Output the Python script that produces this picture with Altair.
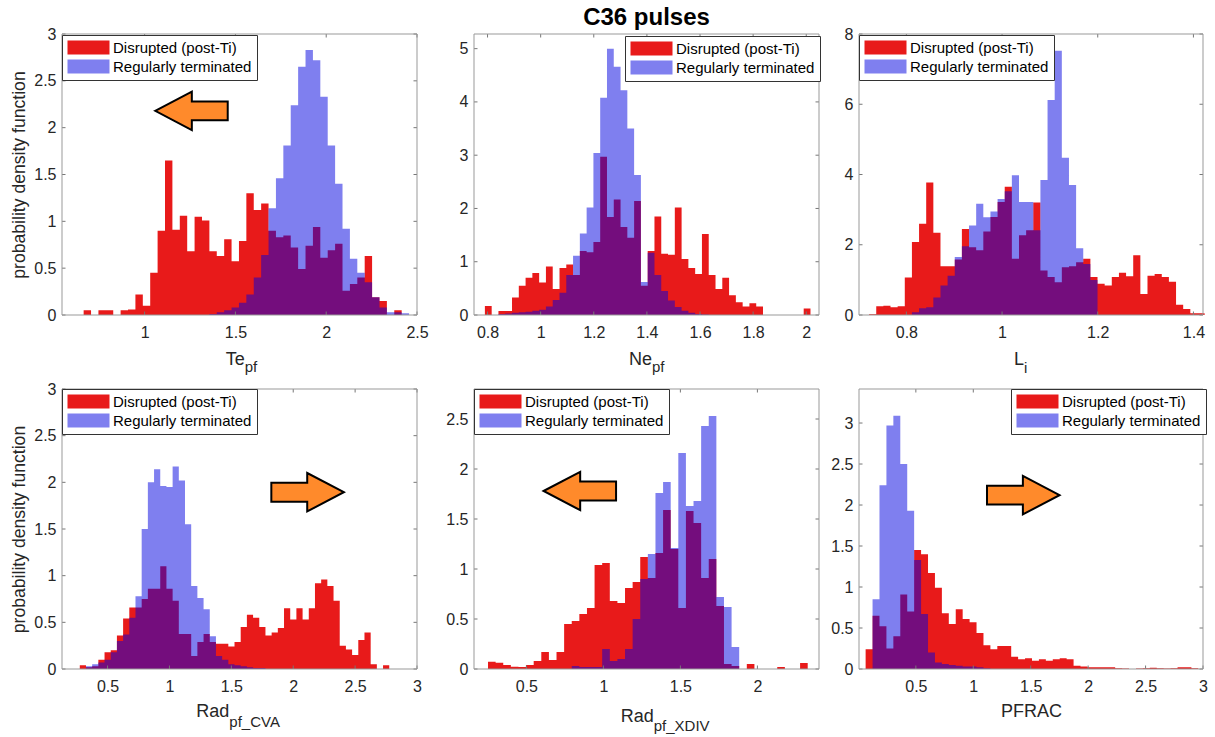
import altair as alt
import pandas as pd

FONT = "Liberation Sans"
INK = "#262626"
RED = "#E81A1A"
BLUE = "rgba(0,0,224,0.5)"
ORANGE = "#FF8A2B"
FRAME = "#999999"
TICKC = "#777777"
SERIES = ["Disrupted (post-Ti)", "Regularly terminated"]
YTITLE = "probability density function"
MAIN_TITLE = "C36 pulses"

# ---------------- data (bin start, bin width, pdf heights) ----------------
TE_START, TE_WIDTH = 0.6642, 0.04073
TE_RED = [0.05, 0, 0.05, 0.05, 0, 0.05, 0.06, 0.22, 0.10, 0.45,
          0.90, 1.65, 0.91, 1.06, 0.68, 1.05, 1.01, 0.68, 0.63, 0.81,
          0.575, 0.79, 1.30, 1.12, 1.19, 0.90, 0.83, 0.85, 0.72, 0.49,
          0.74, 0.94, 0.61, 0.69, 0.76, 0.26, 0.33, 0.40, 0.63, 0.19,
          0.15, 0.0, 0.05, 0.0]
TE_BLUE = [0] * 17 + [0.01, 0.03, 0.05, 0.08, 0.13, 0.22, 0.40, 0.64,
                      1.14, 1.46, 1.81, 2.24, 2.65, 2.83, 2.72, 2.33, 1.81, 1.40, 0.92,
                      0.60, 0.45, 0.35, 0.19, 0.08, 0.03, 0.03, 0.02]

NE_START, NE_WIDTH = 0.790, 0.02554
NE_RED = [0.17, 0, 0.075, 0.075, 0.33, 0.55, 0.70, 0.79, 0.61, 0.91,
          0.49, 0.88, 0.95, 0.75, 1.20, 1.18, 1.37, 2.97, 1.84, 2.17,
          1.65, 1.45, 2.14, 0.55, 1.20, 1.85, 1.15, 1.13, 2.02, 1.05,
          0.88, 0.77, 1.52, 0.75, 0.49, 0.70, 0.37, 0.24, 0.16, 0.22,
          0.16, 0, 0, 0, 0, 0, 0, 0.12]
NE_BLUE = [0, 0, 0.02, 0.03, 0.04, 0.05, 0.06, 0.08, 0.10, 0.16,
           0.28, 0.42, 0.75, 1.11, 1.53, 2.02, 3.04, 4.08, 5.0, 4.66,
           4.22, 3.5, 2.63, 0.62, 1.17, 0.75, 0.45, 0.27, 0.15, 0.08,
           0.04, 0.02, 0.01] + [0] * 15

LI_START, LI_WIDTH = 0.7221, 0.01492
LI_RED = [0.02, 0.25, 0.26, 0.22, 0.25, 1.07, 2.08, 2.6, 3.77, 2.34,
          1.39, 1.39, 1.58, 2.45, 1.93, 1.84, 2.38, 2.79, 3.22, 3.65,
          1.6, 2.27, 2.41, 3.2, 1.27, 1.08, 0.93, 1.36, 1.39, 1.50,
          1.60, 1.08, 0.89, 0.84, 1.08, 1.2, 1.1, 1.70, 0.6, 1.12,
          1.17, 1.08, 0.95, 0.29, 0.17, 0.05, 0.05]
LI_BLUE = [0, 0, 0, 0, 0, 0, 0.08, 0.19, 0.22, 0.5,
           0.84, 1.12, 1.65, 1.96, 2.55, 3.17, 2.78, 2.95, 3.3, 3.52,
           3.98, 3.22, 3.22, 2.41, 3.84, 6.12, 7.52, 4.48, 3.70, 1.90,
           1.45, 1.0] + [0] * 15

CVA_START, CVA_WIDTH = 0.2757, 0.05
CVA_RED = [0.04, 0.02, 0.03, 0.10, 0.18, 0.20, 0.36, 0.54, 0.66, 0.66,
           0.75, 0.86, 0.86, 1.10, 0.86, 0.73, 0.375, 0.375, 0.14, 0.29,
           0.375, 0.29, 0.27, 0.27, 0.24, 0.29, 0.45, 0.58, 0.55, 0.45,
           0.36, 0.39, 0.44, 0.65, 0.53, 0.65, 0.53, 0.65, 0.92, 0.96,
           0.89, 0.73, 0.25, 0.21, 0.15, 0.31, 0.39, 0.05, 0, 0.04]
CVA_BLUE = [0, 0.03, 0.05, 0.07, 0.10, 0.18, 0.30, 0.37, 0.55, 0.78,
            1.5, 2.0, 2.14, 1.96, 1.95, 2.17, 2.02, 1.55, 0.89, 0.76,
            0.64, 0.35, 0.14, 0.10, 0.05, 0.04, 0.03, 0.02, 0.01, 0.01] + [0] * 20

XDIV_START, XDIV_WIDTH = 0.251, 0.04942
XDIV_RED = [0.073, 0.063, 0.04, 0.023, 0.02, 0.04, 0.08, 0.17, 0.09, 0.17,
            0.45, 0.48, 0.55, 0.61, 1.04, 1.06, 0.68, 0.66, 0.81, 0.87,
            1.12, 0.91, 1.16, 1.59, 1.20, 0.61, 1.58, 1.46, 0.91, 1.10,
            0.63, 0.05, 0.03, 0, 0.05, 0, 0, 0, 0.02, 0, 0, 0.06]
XDIV_BLUE = [0] * 11 + [0.03, 0.02, 0.02, 0.02, 0.2, 0.08, 0.1, 0.2, 0.5,
                        0.9, 1.15, 1.76, 1.87, 1.21, 2.16, 1.63, 1.68, 2.43, 2.53,
                        0.72, 0.62, 0.22] + [0] * 9

PF_START, PF_WIDTH = 0.0627, 0.06035
PF_RED = [0.24, 0.65, 0.52, 0.25, 0.40, 0.91, 0.70, 1.45, 1.40, 1.17,
          0.99, 0.68, 0.55, 0.73, 0.61, 0.57, 0.44, 0.29, 0.24, 0.28,
          0.28, 0.15, 0.12, 0.13, 0.10, 0.12, 0.10, 0.12, 0.13, 0.12,
          0.04, 0.03, 0.02, 0.02, 0.02, 0.02, 0.01, 0.005, 0, 0.005,
          0.01, 0.015, 0.01, 0.005, 0.01, 0.02, 0.02, 0.01]
PF_BLUE = [0, 0.85, 2.24, 2.97, 3.09, 2.50, 1.93, 1.33, 0.67, 0.20,
           0.08, 0.06, 0.05, 0.04, 0.03, 0.03, 0.02, 0.01] + [0] * 30

# x-axis labels (main text + subscript)
X_MAIN = ["Te", "Ne", "L", "Rad", "Rad", "PFRAC"]
X_SUB = ["pf", "pf", "i", "pf_CVA", "pf_XDIV", ""]

# arrow annotations (data coordinates, direction)
ARROWS = [(1.258, 2.18, "left"), None, None,
          (2.116, 1.894, "right"), (0.847, 1.78, "left"), (1.435, 2.12, "right")]

# ---------------- layout (pixels) ----------------
LEFT_PATH = "M-1,0L0.01,-0.53L0.01,-0.26L1,-0.26L1,0.26L0.01,0.26L0.01,0.53Z"
RIGHT_PATH = "M1,0L-0.01,-0.53L-0.01,-0.26L-1,-0.26L-1,0.26L-0.01,0.26L-0.01,0.53Z"
# wide legend swatch: 14 px tall, 42 px wide, extending to the right of the symbol slot
LEG_SYMBOL = "M-1,-1L5,-1L5,1L-1,1Z"

LAYOUT = [
    dict(data=(TE_START, TE_WIDTH, TE_RED, TE_BLUE), xdom=[0.545, 2.5], ydom=[0, 3],
         xticks=[1, 1.5, 2, 2.5], yticks=[0, 0.5, 1, 1.5, 2, 2.5, 3],
         W=372, PW=355, H=281, split=182.7, bl=331, sbl=338, leg=(0, 1), ytitle=True),
    dict(data=(NE_START, NE_WIDTH, NE_RED, NE_BLUE), xdom=[0.749, 2.048], ydom=[0, 5.275],
         xticks=[0.8, 1, 1.2, 1.4, 1.6, 1.8, 2], yticks=[0, 1, 2, 3, 4, 5],
         W=345, PW=345, H=281, split=178, bl=331, sbl=338, leg=(151, 2), ytitle=False),
    dict(data=(LI_START, LI_WIDTH, LI_RED, LI_BLUE), xdom=[0.701, 1.42], ydom=[0, 8],
         xticks=[0.8, 1, 1.2, 1.4], yticks=[0, 2, 4, 6, 8],
         W=344, PW=344, H=281, split=165, bl=331, sbl=339, leg=(0, 1), ytitle=False),
    dict(data=(CVA_START, CVA_WIDTH, CVA_RED, CVA_BLUE), xdom=[0.132, 3.0], ydom=[0, 3],
         xticks=[0.5, 1, 1.5, 2, 2.5, 3], yticks=[0, 0.5, 1, 1.5, 2, 2.5, 3],
         W=372, PW=355, H=280, split=167.3, bl=328.3, sbl=337.7, leg=(0, 0), ytitle=True),
    dict(data=(XDIV_START, XDIV_WIDTH, XDIV_RED, XDIV_BLUE), xdom=[0.16, 2.40], ydom=[0, 2.8],
         xticks=[0.5, 1, 1.5, 2], yticks=[0, 0.5, 1, 1.5, 2, 2.5],
         W=345, PW=345, H=280, split=179.7, bl=333.3, sbl=342, leg=(0, 0), ytitle=False),
    dict(data=(PF_START, PF_WIDTH, PF_RED, PF_BLUE), xdom=[0.005, 3.0], ydom=[0, 3.415],
         xticks=[0.5, 1, 1.5, 2, 2.5, 3], yticks=[0, 0.5, 1, 1.5, 2, 2.5, 3],
         W=344, PW=344, H=280, split=172.5, bl=328.3, sbl=337, leg=(152, 0), ytitle=False),
]


def hist_df(start, width, red, blue):
    rows = []
    for name, vals in ((SERIES[0], red), (SERIES[1], blue)):
        n = len(vals)
        for k in range(n):
            rows.append({"x": start + k * width, "y": vals[k], "s": name})
        rows.append({"x": start + n * width, "y": vals[-1], "s": name})
    return pd.DataFrame(rows)


ONE = pd.DataFrame({"k": [0]})


def make_panel(i, p):
    start, width, red, blue = p["data"]
    df = hist_df(start, width, red, blue)
    W, PW, H = p["W"], p["PW"], p["H"]
    xs = alt.Scale(domain=p["xdom"], range=[0, PW], nice=False, zero=False)
    ys = alt.Scale(domain=p["ydom"], nice=False, zero=False)
    xaxis = alt.Axis(values=p["xticks"], format="~g", title=None, grid=False, domain=False,
                     ticks=False, labelFontSize=16, labelFont=FONT, labelColor=INK,
                     labelPadding=9, labelFlush=False, labelOverlap=False)
    ykw = dict(values=p["yticks"], format="~g", grid=False, domain=False, ticks=False,
               labelFontSize=16, labelFont=FONT, labelColor=INK, labelPadding=6,
               labelOverlap=False, labelFlush=False)
    if p["ytitle"]:
        yaxis = alt.Axis(title=YTITLE, titleFontSize=17.6, titleFont=FONT, titleColor=INK,
                         titleFontWeight="normal", titlePadding=5, **ykw)
    else:
        yaxis = alt.Axis(title=None, **ykw)

    color = alt.Color("s:N", scale=alt.Scale(domain=SERIES, range=[RED, BLUE]),
                      legend=alt.Legend(title=None, orient="none",
                                        legendX=p["leg"][0], legendY=p["leg"][1]))
    layers = []
    for name in SERIES:
        layers.append(
            alt.Chart(df).transform_filter(alt.datum.s == name)
            .mark_area(interpolate="step-after", opacity=1, strokeWidth=0)
            .encode(x=alt.X("x:Q", scale=xs, axis=xaxis),
                    y=alt.Y("y:Q", scale=ys, axis=yaxis, stack=None),
                    color=color)
        )

    # inward tick marks on all four sides
    tdx = pd.DataFrame({"v": p["xticks"]})
    tdy = pd.DataFrame({"v": p["yticks"]})
    for y0, y1 in ((H, H - 3.5), (0, 3.5)):
        layers.append(alt.Chart(tdx).mark_rule(color=TICKC, strokeWidth=1).encode(
            x=alt.X("v:Q", scale=xs, axis=xaxis), y=alt.value(y0), y2=alt.value(y1)))
    for x0, x1 in ((0, 3.5), (PW, PW - 3.5)):
        layers.append(alt.Chart(tdy).mark_rule(color=TICKC, strokeWidth=1).encode(
            y=alt.Y("v:Q", scale=ys, axis=yaxis), x=alt.value(x0), x2=alt.value(x1)))

    # frame
    layers.append(alt.Chart(ONE).mark_rect(fill="transparent", stroke=FRAME, strokeWidth=1)
                  .encode(x=alt.value(0), x2=alt.value(PW), y=alt.value(0), y2=alt.value(H)))

    # arrow
    arr = ARROWS[i]
    if arr is not None:
        adf = pd.DataFrame({"x": [arr[0]], "y": [arr[1]]})
        layers.append(alt.Chart(adf).mark_point(
            shape=LEFT_PATH if arr[2] == "left" else RIGHT_PATH, size=5256, filled=True,
            fill=ORANGE, stroke="black", strokeWidth=2, opacity=1)
            .encode(x=alt.X("x:Q", scale=xs, axis=xaxis), y=alt.Y("y:Q", scale=ys, axis=yaxis)))

    # x label with subscript
    sub = X_SUB[i]
    layers.append(alt.Chart(pd.DataFrame({"t": [X_MAIN[i]]})).mark_text(
        align="right" if sub else "center", baseline="alphabetic", fontSize=18, font=FONT,
        color=INK).encode(x=alt.value(p["split"]), y=alt.value(p["bl"]), text="t:N"))
    if sub:
        layers.append(alt.Chart(pd.DataFrame({"t": [sub]})).mark_text(
            align="left", baseline="alphabetic", fontSize=15, font=FONT, color=INK)
            .encode(x=alt.value(p["split"]), y=alt.value(p["sbl"]), text="t:N"))

    ch = alt.layer(*layers).properties(width=W, height=H)
    if i == 1:
        ch = ch.properties(title=alt.TitleParams(text=MAIN_TITLE, fontSize=24, font=FONT,
                                                 fontWeight="bold", color="black",
                                                 anchor="middle", offset=4))
    return ch


panels = [make_panel(i, p) for i, p in enumerate(LAYOUT)]

chart = (
    alt.concat(*panels, columns=3, bounds="flush",
               spacing=alt.RowColnumber(row=74, column=40))
    .resolve_scale(color="independent", x="independent", y="independent")
    .resolve_legend(color="independent")
    .configure_view(stroke="transparent")
    .configure_legend(symbolType=LEG_SYMBOL, symbolSize=196, symbolStrokeWidth=0,
                      labelFontSize=15, labelFont=FONT, labelColor="black",
                      strokeColor="#333333", fillColor="white", padding=5, rowPadding=3,
                      labelOffset=31, cornerRadius=0, labelLimit=400, strokeWidth=1)
    .properties(padding={"left": 10, "top": 5, "right": 5, "bottom": 5},
                background="white")
)

chart.save("out.html", embed_options={"renderer": "svg", "actions": False})
